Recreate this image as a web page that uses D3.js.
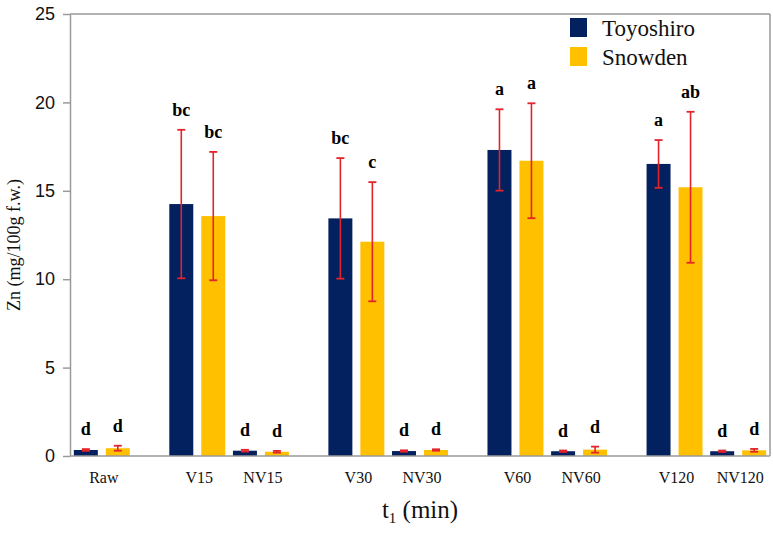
<!DOCTYPE html>
<html>
<head>
<meta charset="utf-8">
<script src="https://cdn.jsdelivr.net/npm/d3@7"></script>
<style>
  html, body { margin: 0; padding: 0; background: #fff; }
  svg { display: block; }
</style>
</head>
<body>
<svg id="chart" width="773" height="533"></svg>
<script>
// ---------- data ----------
const categories = ["Raw", "V15", "NV15", "V30", "NV30", "V60", "NV60", "V120", "NV120"];
const groups = [["Raw"], ["V15", "NV15"], ["V30", "NV30"], ["V60", "NV60"], ["V120", "NV120"]];
const seriesNames = ["Toyoshiro", "Snowden"];
const toyoshiro   = [0.34, 14.25, 0.30, 13.44, 0.28, 17.31, 0.27, 16.52, 0.27];
const toyoshiroSD = [0.05, 4.20, 0.05, 3.41, 0.04, 2.30, 0.04, 1.35, 0.04];
const snowden     = [0.44, 13.57, 0.24, 12.12, 0.34, 16.70, 0.36, 15.20, 0.32];
const snowdenSD   = [0.14, 3.63, 0.05, 3.37, 0.04, 3.25, 0.17, 4.27, 0.08];
const toyoshiroLetters = ["d", "bc", "d", "bc", "d", "a", "d", "a", "d"];
const snowdenLetters   = ["d", "bc", "d", "c", "d", "a", "d", "ab", "d"];
const yTicks = [0, 5, 10, 15, 20, 25];

// ---------- layout ----------
const colors = ["#03215f", "#ffc000"];
const errColor = "#e3242b";
const axisColor = "#9a9a9a";
const mLeft = 70, mRight = 770, mTop = 14, mBottom = 456;

const svg = d3.select("#chart");

// slot index per category: categories within a group are 1 apart, groups separated by an extra half slot
const slotIndex = {};
let slot = 0;
groups.forEach((g, gi) => {
  if (gi > 0) slot += 0.5;
  g.forEach(c => { slotIndex[c] = slot; slot += 1; });
});
const maxSlot = slot - 1;

const x = d3.scaleLinear().domain([-0.5, maxSlot + 0.5]).range([mLeft, mRight]);
const y = d3.scaleLinear().domain([0, 25]).range([mBottom, mTop]);
const step = x(1) - x(0);
const sub = d3.scaleBand().domain(seriesNames).range([-step / 2, step / 2]).paddingInner(0.25).paddingOuter(0.12);
const bw = sub.bandwidth();

// frame
svg.append("line").attr("x1", mLeft).attr("x2", mRight).attr("y1", mTop).attr("y2", mTop)
  .attr("stroke", axisColor).attr("stroke-width", 1.5);
svg.append("line").attr("x1", mRight).attr("x2", mRight).attr("y1", mTop).attr("y2", mBottom)
  .attr("stroke", axisColor).attr("stroke-width", 1.5);

// y axis
const yAxis = svg.append("g").attr("transform", `translate(${mLeft},0)`)
  .call(d3.axisLeft(y).tickValues(yTicks).tickSize(7).tickPadding(8).tickSizeOuter(0));
yAxis.select(".domain").attr("stroke", axisColor).attr("stroke-width", 1.5);
yAxis.selectAll(".tick line").attr("stroke", axisColor).attr("stroke-width", 1.5);
yAxis.selectAll(".tick text").attr("font-family", "Liberation Sans, Arial, sans-serif")
  .attr("font-size", 18).attr("fill", "#111");

// bars
const series = [
  { name: seriesNames[0], values: toyoshiro, sd: toyoshiroSD, letters: toyoshiroLetters, color: colors[0] },
  { name: seriesNames[1], values: snowden, sd: snowdenSD, letters: snowdenLetters, color: colors[1] }
];

const barsG = svg.append("g");
series.forEach(ser => {
  const data = categories.map((c, i) => ({ c, v: ser.values[i], sd: ser.sd[i], l: ser.letters[i] }));
  const cx = d => x(slotIndex[d.c]) + sub(ser.name) + bw / 2;
  barsG.selectAll(null).data(data).enter().append("rect")
    .attr("x", d => cx(d) - bw / 2)
    .attr("y", d => y(d.v))
    .attr("width", bw)
    .attr("height", d => y(0) - y(d.v))
    .attr("fill", ser.color);
  ser.cx = cx; ser.data = data;
});

// error bars & letters
series.forEach(ser => {
  const g = svg.append("g");
  ser.data.forEach(d => {
    const X = ser.cx(d);
    const yHi = y(d.v + d.sd), yLo = y(d.v - d.sd);
    g.append("line").attr("x1", X).attr("x2", X).attr("y1", yHi).attr("y2", yLo)
      .attr("stroke", errColor).attr("stroke-width", 1.6);
    [yHi, yLo].forEach(yy => g.append("line").attr("x1", X - 4).attr("x2", X + 4)
      .attr("y1", yy).attr("y2", yy).attr("stroke", errColor).attr("stroke-width", 1.8));
    g.append("text").attr("x", X).attr("y", yHi - 14)
      .attr("text-anchor", "middle")
      .attr("font-family", "Liberation Serif, Times New Roman, serif")
      .attr("font-weight", "bold").attr("font-size", 18).attr("fill", "#000")
      .text(d.l);
  });
});

// bottom axis line
svg.append("line").attr("x1", mLeft).attr("x2", mRight).attr("y1", mBottom).attr("y2", mBottom)
  .attr("stroke", axisColor).attr("stroke-width", 1.5);

// x labels
svg.append("g").selectAll("text").data(categories).enter().append("text")
  .attr("x", c => x(slotIndex[c]) + 2)
  .attr("y", 483)
  .attr("text-anchor", "middle")
  .attr("font-family", "Liberation Serif, Times New Roman, serif")
  .attr("font-size", 16).attr("fill", "#111")
  .text(c => c);

// x title
const xt = svg.append("text").attr("x", (mLeft + mRight) / 2).attr("y", 518)
  .attr("text-anchor", "middle")
  .attr("font-family", "Liberation Serif, Times New Roman, serif")
  .attr("font-size", 25).attr("fill", "#111");
xt.append("tspan").text("t");
xt.append("tspan").attr("font-size", 15).attr("dy", 5).text("1");
xt.append("tspan").attr("dy", -5).text(" (min)");

// y title
svg.append("text").attr("transform", `translate(20,${(mTop + mBottom) / 2 + 10}) rotate(-90)`)
  .attr("text-anchor", "middle")
  .attr("font-family", "Liberation Serif, Times New Roman, serif")
  .attr("font-size", 18).attr("fill", "#111")
  .text("Zn (mg/100g f.w.)");

// legend
const leg = svg.append("g").attr("transform", "translate(570,18)");
series.forEach((ser, i) => {
  leg.append("rect").attr("x", 0).attr("y", i * 29).attr("width", 17).attr("height", 19).attr("fill", ser.color);
  leg.append("text").attr("x", 32).attr("y", i * 29 + 18)
    .attr("font-family", "Liberation Serif, Times New Roman, serif")
    .attr("font-size", 23).attr("fill", "#111").text(ser.name);
});
</script>
</body>
</html>
